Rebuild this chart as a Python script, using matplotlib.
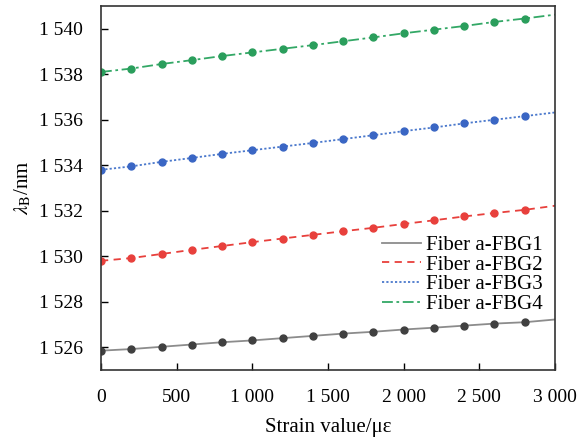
import numpy as np
import matplotlib.pyplot as plt

plt.rcParams['font.family'] = ['Liberation Serif', 'DejaVu Serif']
plt.rcParams['mathtext.fontset'] = 'stix'

strain = [0, 200, 400, 600, 800, 1000, 1200, 1400, 1600, 1800, 2000, 2200, 2400, 2600, 2800, 3000]
fbg1 = [1525.85, 1525.92, 1526.02, 1526.12, 1526.22, 1526.30, 1526.40, 1526.50,
        1526.60, 1526.68, 1526.78, 1526.86, 1526.95, 1527.04, 1527.10, 1527.22]
fbg2 = [1529.80, 1529.92, 1530.10, 1530.28, 1530.45, 1530.62, 1530.78, 1530.94,
        1531.10, 1531.25, 1531.42, 1531.58, 1531.75, 1531.90, 1532.04, 1532.22]
fbg3 = [1533.80, 1533.95, 1534.15, 1534.32, 1534.50, 1534.66, 1534.82, 1534.98,
        1535.15, 1535.32, 1535.50, 1535.66, 1535.84, 1536.00, 1536.16, 1536.32]
fbg4 = [1538.10, 1538.25, 1538.45, 1538.62, 1538.80, 1538.96, 1539.12, 1539.28,
        1539.45, 1539.62, 1539.80, 1539.96, 1540.12, 1540.30, 1540.45, 1540.62]

labels = ['Fiber a-FBG1', 'Fiber a-FBG2', 'Fiber a-FBG3', 'Fiber a-FBG4']
xticks = [0, 500, 1000, 1500, 2000, 2500, 3000]
xticklabels = ['0', '500', '1 000', '1 500', '2 000', '2 500', '3 000']
yticks = [1526, 1528, 1530, 1532, 1534, 1536, 1538, 1540]
yticklabels = ['1 526', '1 528', '1 530', '1 532', '1 534', '1 536', '1 538', '1 540']

series = [fbg1, fbg2, fbg3, fbg4]
line_colors = ['#8c8c8c', '#e8403c', '#4a78cc', '#33a866']
marker_colors = ['#404040', '#e8403c', '#3a66c4', '#2a9e5c']
styles = ['-', (0, (4, 3)), (0, (1.2, 1.2)), (0, (6, 2, 1.5, 2))]

fig = plt.figure(figsize=(5.79, 4.41), dpi=100)
ax = fig.add_axes([101 / 579, 71 / 441, 454 / 579, 364 / 441])

for ys, lc, mc, ls, lab in zip(series, line_colors, marker_colors, styles, labels):
    ax.plot(strain, ys, color=lc, linestyle=ls, linewidth=1.3, label=lab)
    ax.plot(strain[:-1], ys[:-1], linestyle='none', marker='o', markersize=5,
            color=mc)

ax.set_xlim(0, 3000)
ax.set_ylim(1525, 1541)
ax.set_xticks(xticks)
ax.set_xticklabels(xticklabels)
ax.set_yticks(yticks)
ax.set_yticklabels(yticklabels)
ax.tick_params(direction='in', labelsize=14, length=5, width=1)
ax.tick_params(axis='x', pad=14)
ax.tick_params(axis='y', pad=13)
for sp in ax.spines.values():
    sp.set_linewidth(1.2)
    sp.set_color('#333333')

ax.set_xlabel('Strain value/με', fontsize=15, labelpad=8)
ax.set_ylabel(r'$\lambda_\mathrm{B}$/nm', fontsize=15, labelpad=4)

ax.legend(loc='upper right', bbox_to_anchor=(0.995, 0.398), frameon=False,
          fontsize=15, handlelength=1.9, handletextpad=0.2,
          labelspacing=0.0, borderaxespad=0.1)

fig.savefig('out.png', dpi=100)
